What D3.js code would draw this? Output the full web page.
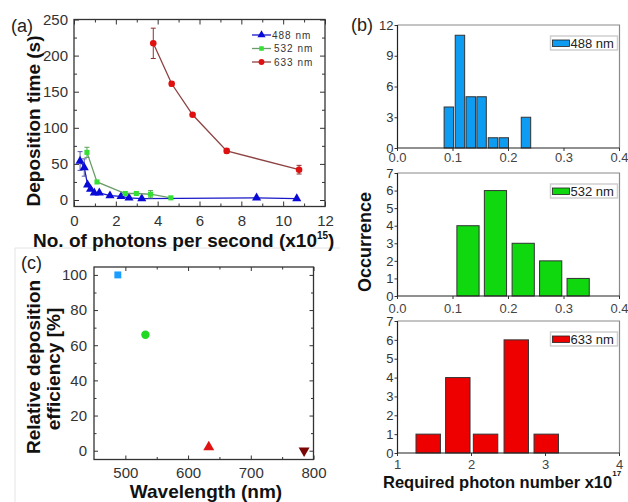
<!DOCTYPE html>
<html>
<head>
<meta charset="utf-8">
<script src="https://cdn.jsdelivr.net/npm/d3@7"></script>
<style>
  body { margin: 0; background: #fff; }
  svg { display: block; font-family: "Liberation Sans", Arial, sans-serif; }
  .tick text { fill: #333; }
</style>
</head>
<body>
<script>
const W = 628;
const H = 502;

// (a) deposition time vs photon flux
const photons488 = [0.29, 0.49, 0.65, 0.79, 0.97, 1.21, 1.72, 2.25, 2.63, 3.24, 8.73, 10.65];
const time488 = [54, 45, 21, 15, 10, 10, 6, 5, 3, 2, 3, 2];
const err488 = [13, 12, 2, 2, 1, 1, 1, 1, 1, 1, 1, 1];

const photons532 = [0.62, 1.1, 2.45, 2.98, 3.66, 4.63];
const time532 = [66, 25, 9, 9, 8, 3];
const err532 = [7, 1, 1, 1, 5, 0];

const photons633 = [3.79, 4.67, 5.67, 7.30, 10.76];
const time633 = [217, 161, 118, 68, 42];
const err633 = [21, 3, 2, 3, 6];

// (b) histograms of required photon number
const bins488 = [0.0925, 0.1125, 0.1320, 0.1515, 0.1720, 0.1915, 0.2315];
const counts488 = [4, 11, 5, 5, 1, 1, 3];
const bins532 = [0.127, 0.1765, 0.2265, 0.276, 0.3255];
const counts532 = [4, 6, 3, 2, 1];
const bins633 = [1.415, 1.815, 2.19, 2.605, 3.01];
const counts633 = [1, 4, 1, 6, 1];

// (c) relative efficiency
const wavelengths = [488, 532, 633, 785];
const efficiency = [100, 66, 2, 0];

const svg = d3.select('body').append('svg')
  .attr('width', W)
  .attr('height', H);

// faint border of the pasted panel (c)
svg.append('path')
  .attr('d', 'M15,502 L15,248 L340,248')
  .attr('fill', 'none')
  .attr('stroke', '#e4e4e4')
  .attr('stroke-width', 1);

const label = (x, y, txt, size, weight) =>
  svg.append('text')
    .attr('x', x).attr('y', y)
    .attr('font-size', size)
    .attr('font-weight', weight || 'normal')
    .attr('fill', '#222')
    .text(txt);

const vtitle = (cx, cy, txt, size) =>
  svg.append('text')
    .attr('transform', `translate(${cx + size * 0.36},${cy}) rotate(-90)`)
    .attr('text-anchor', 'middle')
    .attr('font-size', size)
    .attr('font-weight', 'bold')
    .attr('fill', '#111')
    .text(txt);

// draw an axis and tidy it up
const putAxis = (axis, tx, ty, fontSize, showLabels = true) => {
  const g = svg.append('g')
    .attr('transform', `translate(${tx},${ty})`)
    .call(axis);
  g.select('.domain').remove();
  g.selectAll('line').attr('stroke', '#333');
  g.selectAll('text').attr('font-size', fontSize).attr('font-family', null);
  if (!showLabels) g.selectAll('text').remove();
  return g;
};

/* ---------------- panel (a) ---------------- */
const xA = d3.scaleLinear().domain([0, 12]).range([74, 325]);
const yA = d3.scaleLinear().domain([-9, 250]).range([206.5, 19.5]);

const yTicksA = d3.range(0, 251, 50);
const xTicksA = d3.range(0, 13, 2);

putAxis(d3.axisLeft(yA).tickValues(yTicksA).tickSize(-5).tickPadding(6), 74, 0, 15);
putAxis(d3.axisLeft(yA).tickValues(d3.range(25, 250, 50)).tickSize(-3).tickFormat(''), 74, 0, 15, false);
putAxis(d3.axisRight(yA).tickValues(yTicksA).tickSize(-5), 325, 0, 15, false);
putAxis(d3.axisRight(yA).tickValues(d3.range(25, 250, 50)).tickSize(-3), 325, 0, 15, false);
putAxis(d3.axisBottom(xA).tickValues(xTicksA).tickSize(-5).tickPadding(9), 0, 206.5, 15);
putAxis(d3.axisBottom(xA).tickValues(d3.range(1, 12, 2)).tickSize(-3).tickFormat(''), 0, 206.5, 15, false);
putAxis(d3.axisTop(xA).tickValues(xTicksA).tickSize(-5), 0, 19.5, 15, false);
putAxis(d3.axisTop(xA).tickValues(d3.range(1, 12, 2)).tickSize(-3), 0, 19.5, 15, false);

svg.append('rect')
  .attr('x', 74).attr('y', 19.5)
  .attr('width', 325 - 74).attr('height', 206.5 - 19.5)
  .attr('fill', 'none').attr('stroke', '#333').attr('stroke-width', 1.3);

const seriesA = [
  { name: '488 nm', xs: photons488, ys: time488, es: err488, line: '#1818c8', fill: '#0a0ad8', err: '#5a5ab0', shape: d3.symbolTriangle, size: 36 },
  { name: '532 nm', xs: photons532, ys: time532, es: err532, line: '#6c9c6c', fill: '#33e033', err: '#5aa05a', shape: d3.symbolSquare, size: 26 },
  { name: '633 nm', xs: photons633, ys: time633, es: err633, line: '#8e4242', fill: '#e01010', err: '#8e3030', shape: d3.symbolCircle, size: 34 }
];

const lineA = d3.line().x(d => xA(d[0])).y(d => yA(d[1]));

seriesA.forEach(s => {
  const pts = s.xs.map((x, i) => [x, s.ys[i], s.es[i]]);
  svg.append('path')
    .attr('d', lineA(pts))
    .attr('fill', 'none')
    .attr('stroke', s.line)
    .attr('stroke-width', 1.3);
  const eb = svg.append('g');
  pts.filter(p => p[2] > 1).forEach(p => {
    const x = xA(p[0]);
    eb.append('path')
      .attr('d', `M${x},${yA(p[1] + p[2])}V${yA(p[1] - p[2])}M${x - 2.5},${yA(p[1] + p[2])}h5M${x - 2.5},${yA(p[1] - p[2])}h5`)
      .attr('stroke', s.err)
      .attr('stroke-width', 1)
      .attr('fill', 'none');
  });
  svg.append('g').selectAll('path')
    .data(pts)
    .join('path')
    .attr('transform', d => `translate(${xA(d[0])},${yA(d[1])})`)
    .attr('d', d3.symbol(s.shape, s.size))
    .attr('fill', s.fill);
});

// legend (a)
seriesA.forEach((s, i) => {
  const y = 35 + i * 13.5;
  svg.append('line')
    .attr('x1', 252).attr('x2', 271).attr('y1', y).attr('y2', y)
    .attr('stroke', s.line).attr('stroke-width', 1.3);
  svg.append('path')
    .attr('transform', `translate(261.5,${y})`)
    .attr('d', d3.symbol(s.shape, s.size * 0.8))
    .attr('fill', s.fill);
  svg.append('text')
    .attr('x', i === 0 ? 272 : 274).attr('y', y + 3.5)
    .attr('font-size', 10)
    .attr('letter-spacing', 1)
    .attr('fill', '#333')
    .text(s.name);
});

label(11, 32, '(a)', 18);
vtitle(33, 121, 'Deposition time (s)', 19);

const xtA = svg.append('text')
  .attr('x', 33).attr('y', 247)
  .attr('font-size', 19)
  .attr('font-weight', 'bold')
  .attr('fill', '#111');
xtA.append('tspan').text('No. of photons per second (x10');
xtA.append('tspan').attr('font-size', 10).attr('dy', -8).text('15');
xtA.append('tspan').attr('dy', 8).text(')');

/* ---------------- panel (b) ---------------- */
const hists = [
  { name: '488 nm', bins: bins488, counts: counts488, binW: 0.017, xDom: [0, 0.4], yMax: 12, yStep: 3, top: 25, bottom: 148, fill: '#0d9cf2', fmt: d3.format('.1f'), lab: 162 },
  { name: '532 nm', bins: bins532, counts: counts532, binW: 0.04, xDom: [0, 0.4], yMax: 7, yStep: 1, top: 173, bottom: 296, fill: '#0fd80f', fmt: d3.format('.1f'), lab: 313 },
  { name: '633 nm', bins: bins633, counts: counts633, binW: 0.33, xDom: [1, 4], yMax: 7, yStep: 1, top: 321, bottom: 453, fill: '#ee0000', fmt: d3.format('d'), lab: 469 }
];

const bLeft = 397.5;
const bRight = 619.5;

hists.forEach(hd => {
  const x = d3.scaleLinear().domain(hd.xDom).range([bLeft, bRight]);
  const y = d3.scaleLinear().domain([0, hd.yMax]).range([hd.bottom, hd.top]);

  // gray frame (top and right)
  svg.append('path')
    .attr('d', `M${bLeft},${hd.top}H${bRight}V${hd.bottom}`)
    .attr('fill', 'none').attr('stroke', '#8a8a8a').attr('stroke-width', 1.2);

  svg.append('g').selectAll('rect')
    .data(hd.bins.map((b, i) => [b, hd.counts[i]]))
    .join('rect')
    .attr('x', d => x(d[0] - hd.binW / 2))
    .attr('width', d => x(d[0] + hd.binW / 2) - x(d[0] - hd.binW / 2))
    .attr('y', d => y(d[1]))
    .attr('height', d => y(0) - y(d[1]))
    .attr('fill', hd.fill)
    .attr('stroke', '#333')
    .attr('stroke-width', 1);

  const gy = putAxis(d3.axisLeft(y)
    .tickValues(d3.range(0, hd.yMax + 0.1, hd.yStep))
    .tickFormat(d3.format('d'))
    .tickSize(3).tickPadding(1), bLeft, 0, 13);
  gy.selectAll('text').attr('fill', '#444');
  const xTicks = hd.xDom[0] === 0 ? d3.range(0, 0.41, 0.1) : d3.range(1, 4.1, 1);
  const gx = svg.append('g');
  gx.selectAll('line')
    .data(xTicks)
    .join('line')
    .attr('x1', d => x(d)).attr('x2', d => x(d))
    .attr('y1', hd.bottom).attr('y2', hd.bottom + 3)
    .attr('stroke', '#333');
  gx.selectAll('text')
    .data(xTicks)
    .join('text')
    .attr('x', d => x(d)).attr('y', hd.lab)
    .attr('text-anchor', 'middle')
    .attr('font-size', 13)
    .attr('fill', '#444')
    .text(hd.fmt);

  svg.append('path')
    .attr('d', `M${bLeft},${hd.top}V${hd.bottom}H${bRight}`)
    .attr('fill', 'none').attr('stroke', '#222').attr('stroke-width', 1.2);

  // legend box
  const ly = hd.top + 11;
  svg.append('rect')
    .attr('x', 550.5).attr('y', ly).attr('width', 67).attr('height', 14)
    .attr('fill', '#fff').attr('stroke', '#cfcfcf').attr('stroke-width', 1.5);
  svg.append('rect')
    .attr('x', 552.5).attr('y', ly + 4).attr('width', 17).attr('height', 6.5)
    .attr('fill', hd.fill).attr('stroke', '#222').attr('stroke-width', 0.8);
  svg.append('text')
    .attr('x', 570.5).attr('y', ly + 11.5)
    .attr('font-size', 13)
    .attr('fill', '#222')
    .text(hd.name);
});

label(351, 31, '(b)', 18);
vtitle(365, 242, 'Occurrence', 18);

const xtB = svg.append('text')
  .attr('x', 383).attr('y', 488)
  .attr('font-size', 16.5)
  .attr('font-weight', 'bold')
  .attr('fill', '#111');
xtB.append('tspan').text('Required photon number x10');
xtB.append('tspan').attr('font-size', 8).attr('dy', -12).text('17');

/* ---------------- panel (c) ---------------- */
const xC = d3.scaleLinear().domain([450, 800]).range([94, 313.5]);
const yC = d3.scaleLinear().domain([-5, 104.5]).range([459.5, 267]);

putAxis(d3.axisLeft(yC).tickValues(d3.range(0, 101, 20)).tickSize(-4).tickPadding(7), 94, 0, 15);
putAxis(d3.axisLeft(yC).tickValues(d3.range(10, 100, 20)).tickSize(-2.5), 94, 0, 15, false);
putAxis(d3.axisRight(yC).tickValues(d3.range(0, 101, 20)).tickSize(-4), 313.5, 0, 15, false);
putAxis(d3.axisRight(yC).tickValues(d3.range(10, 100, 20)).tickSize(-2.5), 313.5, 0, 15, false);
putAxis(d3.axisBottom(xC).tickValues([500, 600, 700, 800]).tickSize(-4).tickPadding(8), 0, 459.5, 15);
putAxis(d3.axisBottom(xC).tickValues([550, 650, 750]).tickSize(-2.5), 0, 459.5, 15, false);
putAxis(d3.axisTop(xC).tickValues([500, 600, 700, 800]).tickSize(-4), 0, 267, 15, false);
putAxis(d3.axisTop(xC).tickValues([550, 650, 750]).tickSize(-2.5), 0, 267, 15, false);

svg.append('rect')
  .attr('x', 94).attr('y', 267)
  .attr('width', 313.5 - 94).attr('height', 459.5 - 267)
  .attr('fill', 'none').attr('stroke', '#333').attr('stroke-width', 1.3);

const markC = [
  { shape: d3.symbolSquare, size: 48, fill: '#1a9dff', rot: 0 },
  { shape: d3.symbolCircle, size: 56, fill: '#22d822', rot: 0 },
  { shape: d3.symbolTriangle, size: 52, fill: '#e01212', rot: 0 },
  { shape: d3.symbolTriangle, size: 52, fill: '#7a0505', rot: 180 }
];

svg.append('g').selectAll('path')
  .data(wavelengths.map((w, i) => [w, efficiency[i], markC[i]]))
  .join('path')
  .attr('transform', d => `translate(${xC(d[0])},${yC(d[1])}) rotate(${d[2].rot})`)
  .attr('d', d => d3.symbol(d[2].shape, d[2].size)())
  .attr('fill', d => d[2].fill);

label(21, 269, '(c)', 18);
vtitle(33, 367, 'Relative deposition', 19);
vtitle(53, 369, 'efficiency [%]', 19);

svg.append('text')
  .attr('x', 206).attr('y', 498)
  .attr('text-anchor', 'middle')
  .attr('font-size', 19)
  .attr('font-weight', 'bold')
  .attr('fill', '#111')
  .text('Wavelength (nm)');
</script>
</body>
</html>
